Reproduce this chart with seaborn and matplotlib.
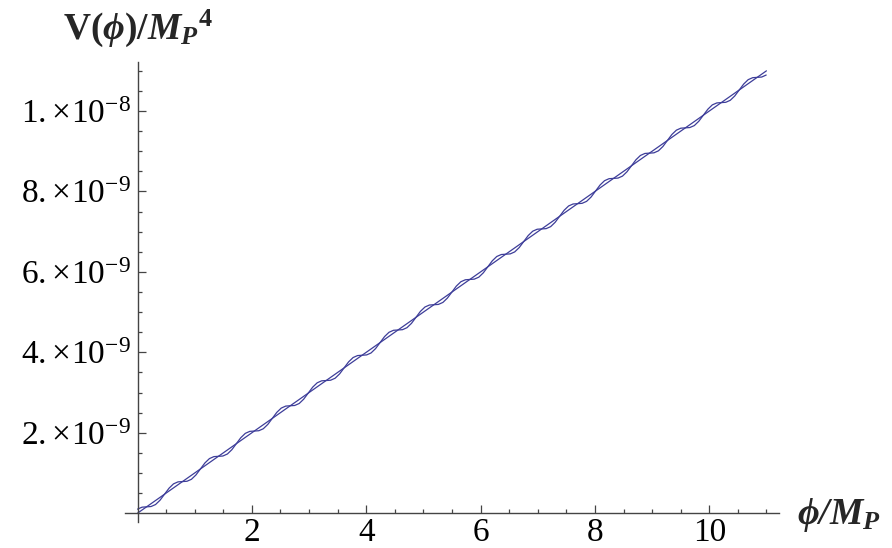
import matplotlib
matplotlib.use("Agg")
import matplotlib.pyplot as plt
import seaborn as sns
import pandas as pd

# ---------------- data (V in units of 1e-9 M_P^4) ----------------
phi_straight = [0.0, 11.0]
v_straight = [0.0, 11.0]

phi_wiggle = [
    0.000, 0.079, 0.157, 0.236, 0.314, 0.393, 0.471, 0.550, 0.628, 0.707,
    0.785, 0.864, 0.942, 1.021, 1.100, 1.178, 1.257, 1.335, 1.414, 1.492,
    1.571, 1.649, 1.728, 1.806, 1.885, 1.963, 2.042, 2.121, 2.199, 2.278,
    2.356, 2.435, 2.513, 2.592, 2.670, 2.749, 2.827, 2.906, 2.985, 3.063,
    3.142, 3.220, 3.299, 3.377, 3.456, 3.534, 3.613, 3.691, 3.770, 3.848,
    3.927, 4.006, 4.084, 4.163, 4.241, 4.320, 4.398, 4.477, 4.555, 4.634,
    4.712, 4.791, 4.869, 4.948, 5.027, 5.105, 5.184, 5.262, 5.341, 5.419,
    5.498, 5.576, 5.655, 5.733, 5.812, 5.890, 5.969, 6.048, 6.126, 6.205,
    6.283, 6.362, 6.440, 6.519, 6.597, 6.676, 6.754, 6.833, 6.912, 6.990,
    7.069, 7.147, 7.226, 7.304, 7.383, 7.461, 7.540, 7.618, 7.697, 7.775,
    7.854, 7.933, 8.011, 8.090, 8.168, 8.247, 8.325, 8.404, 8.482, 8.561,
    8.639, 8.718, 8.796, 8.875, 8.954, 9.032, 9.111, 9.189, 9.268, 9.346,
    9.425, 9.503, 9.582, 9.660, 9.739, 9.817, 9.896, 9.975, 10.053, 10.132,
    10.210, 10.289, 10.367, 10.446, 10.524, 10.603, 10.681, 10.760, 10.838, 10.917,
    10.996,
]
v_wiggle = [
    0.100, 0.149, 0.157, 0.165, 0.214, 0.322, 0.471, 0.620, 0.728, 0.778,
    0.785, 0.793, 0.842, 0.950, 1.100, 1.249, 1.357, 1.406, 1.414, 1.421,
    1.471, 1.578, 1.728, 1.877, 1.985, 2.034, 2.042, 2.050, 2.099, 2.207,
    2.356, 2.506, 2.613, 2.663, 2.670, 2.678, 2.727, 2.835, 2.985, 3.134,
    3.242, 3.291, 3.299, 3.306, 3.356, 3.463, 3.613, 3.762, 3.870, 3.919,
    3.927, 3.935, 3.984, 4.092, 4.241, 4.391, 4.498, 4.548, 4.555, 4.563,
    4.612, 4.720, 4.869, 5.019, 5.127, 5.176, 5.184, 5.191, 5.241, 5.348,
    5.498, 5.647, 5.755, 5.804, 5.812, 5.820, 5.869, 5.977, 6.126, 6.276,
    6.383, 6.432, 6.440, 6.448, 6.497, 6.605, 6.754, 6.904, 7.012, 7.061,
    7.069, 7.076, 7.126, 7.233, 7.383, 7.532, 7.640, 7.689, 7.697, 7.705,
    7.754, 7.862, 8.011, 8.161, 8.268, 8.318, 8.325, 8.333, 8.382, 8.490,
    8.639, 8.789, 8.896, 8.946, 8.954, 8.961, 9.011, 9.118, 9.268, 9.417,
    9.525, 9.574, 9.582, 9.590, 9.639, 9.746, 9.896, 10.045, 10.153, 10.202,
    10.210, 10.218, 10.267, 10.375, 10.524, 10.673, 10.781, 10.830, 10.838, 10.846,
    10.896,
]

x_major = [2, 4, 6, 8, 10]
x_major_labels = ["2", "4", "6", "8", "10"]
y_major = [2, 4, 6, 8, 10]
y_major_labels = [r"$2.\!\times\!10^{-9}$", r"$4.\!\times\!10^{-9}$", r"$6.\!\times\!10^{-9}$",
                  r"$8.\!\times\!10^{-9}$", r"$1.\!\times\!10^{-8}$"]
x_minor = [0.5, 1, 1.5, 2.5, 3, 3.5, 4.5, 5, 5.5, 6.5, 7, 7.5, 8.5, 9, 9.5, 10.5, 11]
y_minor = [0.5, 1, 1.5, 2.5, 3, 3.5, 4.5, 5, 5.5, 6.5, 7, 7.5, 8.5, 9, 9.5, 10.5, 11]

# ---------------- style ----------------
sns.set_theme(style="white")
plt.rcParams["font.family"] = ["Liberation Serif", "DejaVu Serif"]
plt.rcParams["mathtext.fontset"] = "custom"
plt.rcParams["mathtext.rm"] = "Liberation Serif"
plt.rcParams["mathtext.it"] = "Liberation Serif:italic"
plt.rcParams["mathtext.bf"] = "Liberation Serif:bold"
plt.rcParams["mathtext.bfit"] = "Liberation Serif:italic:bold"

line_color = "#3d3d99"
axis_color = "#444444"
fs = 24
lab_fs = 27

W, H = 892, 548
fig = plt.figure(figsize=(W / 100, H / 100), dpi=100)
ax = fig.add_axes([125 / W, 1 - 522 / H, 654 / W, 460 / H])

df_s = pd.DataFrame({"phi": phi_straight, "V": v_straight})
df_w = pd.DataFrame({"phi": phi_wiggle, "V": v_wiggle})
sns.lineplot(data=df_s, x="phi", y="V", ax=ax, color=line_color, lw=0.9, estimator=None, sort=False)
sns.lineplot(data=df_w, x="phi", y="V", ax=ax, color=line_color, lw=0.9, estimator=None, sort=False)

ax.set_xlim(-0.22, 11.22)
ax.set_ylim(-0.22, 11.22)
ax.set_xlabel("")
ax.set_ylabel("")

for side in ("top", "right"):
    ax.spines[side].set_visible(False)
for side in ("left", "bottom"):
    ax.spines[side].set_position(("data", 0))
    ax.spines[side].set_color(axis_color)
    ax.spines[side].set_linewidth(1.0)
ax.spines["left"].set_bounds(-0.22, 11.22)
ax.spines["bottom"].set_bounds(-0.22, 11.22)

ax.set_xticks(x_major)
ax.set_xticklabels(x_major_labels)
ax.set_xticks(x_minor, minor=True)
ax.set_yticks(y_major)
ax.set_yticklabels(y_major_labels)
ax.set_yticks(y_minor, minor=True)

ax.tick_params(which="both", direction="in", color=axis_color, width=0.9,
               labelsize=fs, labelcolor="black", bottom=True, left=True,
               top=False, right=False)
ax.tick_params(which="major", length=5.5, pad=5)
ax.tick_params(which="minor", length=3.0)
ax.tick_params(axis="x", which="major", pad=3)
ax.grid(False)

fig.text(138 / W, 1 - 28 / H,
         r"$\mathbf{V(}\mathbfit{\phi}\mathbf{)/}{\mathbfit{M}_{\mathbfit{P}}}^{\mathbf{4}}$",
         ha="center", va="center", fontsize=lab_fs)
fig.text(797 / W, 1 - 515 / H,
         r"$\mathbfit{\phi/M}_{\mathbfit{P}}$",
         ha="left", va="center", fontsize=lab_fs)

fig.savefig("out.png", dpi=100)
